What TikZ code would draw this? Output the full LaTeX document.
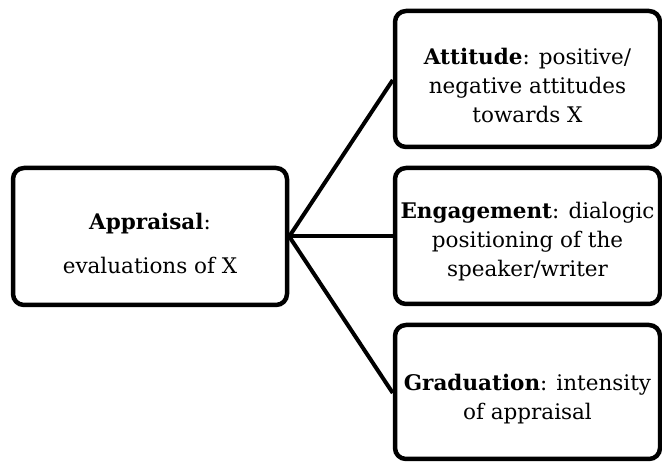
\documentclass[tikz,border=0pt]{standalone}
\usepackage{fontspec}
\setmainfont{DejaVu Serif}
\begin{document}
\begin{tikzpicture}[x=1pt,y=-1pt,
  box/.style={draw=black,line width=4.5pt,rounded corners=11pt,minimum width=#1,inner sep=0pt},
  txt/.style={align=center,font=\fontsize{21.5}{29}\selectfont,inner sep=0pt},
  link/.style={draw=black,line width=4pt}]
\useasboundingbox (0,0) rectangle (662,462);
\node[box=274pt,minimum height=137pt] (app) at (150,236.5) {};
\node[box=265pt,minimum height=136pt] (att) at (527.5,79) {};
\node[box=265pt,minimum height=136pt] (eng) at (527.5,236) {};
\node[box=265pt,minimum height=134pt] (gra) at (527.5,392) {};
\node[txt] (tapp) at (150,243) {\textbf{Appraisal}:\\[15pt]evaluations of X};
\node[txt] (tatt) at (527.5,85) {\textbf{Attitude}: positive/\\negative attitudes\\towards X};
\node[txt] (teng) at (527.5,241.5) {\textbf{Engagement}: dialogic\\positioning of the\\speaker/writer};
\node[txt] (tgra) at (527.5,399) {\textbf{Graduation}: intensity\\of appraisal};
\coordinate (hub) at (app.east);
\draw[link] (hub) -- (att.west |- 0,80);
\draw[link] (hub) -- (eng.west |- hub);
\draw[link] (hub) -- (gra.west |- 0,393);
\end{tikzpicture}
\end{document}
